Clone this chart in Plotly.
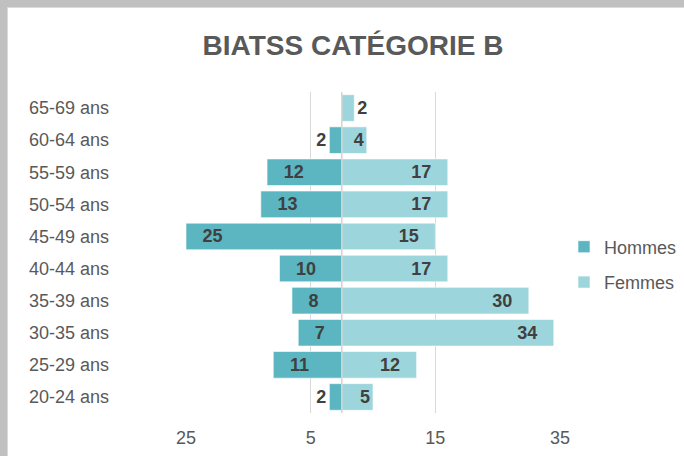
import plotly.graph_objects as go

# age groups, bottom to top
ages = ["20-24 ans", "25-29 ans", "30-35 ans", "35-39 ans", "40-44 ans",
        "45-49 ans", "50-54 ans", "55-59 ans", "60-64 ans", "65-69 ans"]
hommes = [2, 11, 7, 8, 10, 25, 13, 12, 2, 0]
femmes = [5, 12, 34, 30, 17, 15, 17, 17, 4, 2]

tick_vals = [-25, -5, 15, 35]
tick_text = ["25", "5", "15", "35"]

c_h = "#5BB6C1"
c_f = "#9DD5DC"

W, H = 684, 456
L, R, T, B = 186, 124, 92, 43
pw, ph = W - L - R, H - T - B

PAD = "\u00a0\u00a0\u2009"


def lab(v, left):
    if v == 0:
        return ""
    if v < 6:
        return str(v)
    return PAD + str(v) if left else str(v) + PAD


def pos(v):
    return "outside" if v <= 2 else "inside"


def px_x(p):
    return (p - L) / pw


def px_y(p):
    return (H - B - p) / ph


fig = go.Figure()
fig.add_trace(go.Bar(
    y=ages, x=[-v if v else None for v in hommes], orientation="h", name="Hommes",
    marker=dict(color=c_h, line=dict(color="white", width=0.6)),
    text=[lab(v, True) for v in hommes], textposition=[pos(v) for v in hommes],
    insidetextanchor="end",
    textfont=dict(family="Liberation Sans, Arial", size=18, color="#404040", weight="bold"),
    legendgroup="h", hoverinfo="skip",
))
fig.add_trace(go.Bar(
    y=ages, x=femmes, orientation="h", name="Femmes",
    marker=dict(color=c_f, line=dict(color="white", width=0.6)),
    text=[lab(v, False) for v in femmes], textposition=[pos(v) for v in femmes],
    insidetextanchor="end",
    textfont=dict(family="Liberation Sans, Arial", size=18, color="#404040", weight="bold"),
    legendgroup="f", hoverinfo="skip",
))

fig.update_layout(
    width=W, height=H,
    margin=dict(l=L, r=R, t=T, b=B, pad=0, autoexpand=False),
    paper_bgcolor="white", plot_bgcolor="white",
    barmode="relative", bargap=0.17,
    font=dict(family="Liberation Sans, Arial", size=18, color="#595959"),
    title=dict(text="<b>BIATSS CATÉGORIE B</b>", x=353 / W, xanchor="center",
               y=1 - 45 / H, yanchor="middle", automargin=False,
               font=dict(size=28, color="#595959")),
    xaxis=dict(range=[-25, 35], tickvals=tick_vals, ticktext=tick_text,
               showgrid=True, gridcolor="#D9D9D9", gridwidth=1.4,
               zeroline=False,
               showline=False, ticks="", ticklabelstandoff=12, automargin=False,
               tickfont=dict(size=18, color="#595959"), fixedrange=True),
    yaxis=dict(range=[-0.5, 9.5], showgrid=False, showline=False, ticks="",
               ticklabelstandoff=76, automargin=False,
               tickfont=dict(size=18, color="#595959"), fixedrange=True),
    legend=dict(x=px_x(564), xanchor="left", y=px_y(264.5), yanchor="middle",
                traceorder="grouped", tracegroupgap=9,
                font=dict(size=18, color="#595959"), bgcolor="rgba(0,0,0,0)"),
    showlegend=True,
    shapes=[
        # vertical category axis at 0
        dict(type="line", xref="x", yref="paper", layer="above",
             x0=0, x1=0, y0=0, y1=1, line=dict(color="#D0D0D0", width=1.4)),
        # grey frame of the chart object
        dict(type="rect", xref="paper", yref="paper", layer="above",
             x0=px_x(0), x1=px_x(8), y0=px_y(H), y1=px_y(0),
             fillcolor="#DADADA", line=dict(width=0)),
        dict(type="rect", xref="paper", yref="paper", layer="above",
             x0=px_x(0), x1=px_x(W), y0=px_y(8), y1=px_y(0),
             fillcolor="#DADADA", line=dict(width=0)),
        dict(type="rect", xref="paper", yref="paper", layer="above",
             x0=px_x(0), x1=px_x(7), y0=px_y(H), y1=px_y(0),
             fillcolor="#C0C0C0", line=dict(width=0)),
        dict(type="rect", xref="paper", yref="paper", layer="above",
             x0=px_x(0), x1=px_x(W), y0=px_y(7), y1=px_y(0),
             fillcolor="#C0C0C0", line=dict(width=0)),
    ],
)

fig.write_html("out.html", config={"displayModeBar": False},
               post_script="document.body.style.margin='0';document.body.style.overflow='hidden';")
